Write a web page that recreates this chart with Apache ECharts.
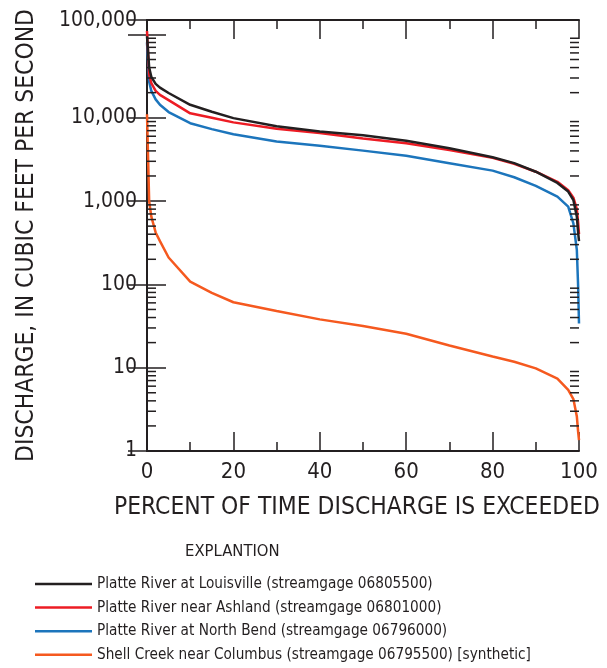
<!DOCTYPE html>
<html>
<head>
<meta charset="utf-8">
<script src="https://cdn.jsdelivr.net/npm/echarts@6/dist/echarts.min.js"></script>
<style>
  html, body { margin: 0; padding: 0; background: #fff; }
  #chart { width: 607px; height: 668px; }
</style>
</head>
<body>
<div id="chart"></div>
<script>
// percent of time discharge is exceeded
const percents = [0, 0.5, 1, 2, 3, 5, 10, 15, 20, 30, 40, 50, 60, 70, 80, 85, 90, 95, 97.5, 98.7, 99.5, 99.8, 100]

// discharge, cubic feet per second
const louisville = [95000, 40000, 31000, 25500, 23000, 19800, 14300, 11800, 9900, 7900, 6850, 6150, 5300, 4300, 3350, 2850, 2250, 1650, 1300, 1030, 650, 420, 330]
const ashland = [110000, 33000, 26000, 21000, 18800, 16300, 11300, 10000, 8800, 7400, 6550, 5650, 4950, 4100, 3300, 2800, 2250, 1700, 1350, 1100, 800, 550, 400]
const northBend = [80000, 27000, 21000, 16600, 14300, 11700, 8600, 7300, 6350, 5200, 4600, 4030, 3500, 2850, 2320, 1930, 1520, 1130, 857, 541, 259, 94, 34]
const shellCreek = [11000, 1000, 650, 420, 330, 210, 108, 79, 61, 48, 38, 31.6, 25.5, 18.5, 13.6, 11.8, 9.8, 7.4, 5.4, 4.2, 2.6, 1.7, 1.35]

const seriesNames = [
    'Platte River at Louisville (streamgage 06805500)',
    'Platte River near Ashland (streamgage 06801000)',
    'Platte River at North Bend (streamgage 06796000)',
    'Shell Creek near Columbus (streamgage 06795500) [synthetic]'
]
const seriesColors = ['#231f20', '#ed1c24', '#1c75bc', '#f5591f']
const seriesValues = [louisville, ashland, northBend, shellCreek]

const yMin = 1
const yMax = 149000
const minorMultipliers = [2, 3, 4, 5, 6, 7, 8, 9]

const font = "'DejaVu Sans Condensed', 'Liberation Sans Narrow', sans-serif"
const ink = '#231f20'

const chart = echarts.init(document.getElementById('chart'))

function isDecade(v) {
    const e = Math.log10(v)
    return Math.abs(e - Math.round(e)) < 1e-6
}

const xBase = {
    type: 'value',
    min: 0,
    max: 100,
    interval: 20,
    axisLine: {lineStyle: {color: ink, width: 2}},
    axisTick: {inside: true, length: 19, lineStyle: {color: ink, width: 1.5}},
    minorTick: {show: true, splitNumber: 2, length: 9, lineStyle: {color: ink, width: 1.5}},
    splitLine: {show: false},
    minorSplitLine: {show: false}
}

const yBase = {
    type: 'log',
    logBase: 10,
    min: yMin,
    max: yMax,
    axisLine: {lineStyle: {color: ink, width: 2}},
    axisTick: {inside: true, length: 19, lineStyle: {color: ink, width: 1.5}},
    splitLine: {show: false}
}

chart.setOption({
    animation: false,
    backgroundColor: '#fff',
    textStyle: {fontFamily: font},
    grid: {left: 147, right: 28, top: 20, bottom: 217, containLabel: false, outerBoundsMode: 'none'},
    title: {
        text: 'EXPLANTION',
        left: 185,
        top: 543,
        padding: 0,
        textStyle: {fontFamily: font, fontSize: 16.5, fontWeight: 'normal', color: ink}
    },
    legend: {
        orient: 'vertical',
        left: 35,
        top: 574,
        padding: 0,
        icon: 'rect',
        itemWidth: 57,
        itemHeight: 2.5,
        itemGap: 3.6,
        textStyle: {fontFamily: font, fontSize: 15.2, lineHeight: 20, color: ink},
        data: seriesNames
    },
    xAxis: [
        Object.assign({}, xBase, {
            position: 'bottom',
            name: 'PERCENT OF TIME DISCHARGE IS EXCEEDED',
            nameLocation: 'middle',
            nameGap: 45,
            nameTextStyle: {fontFamily: font, fontSize: 24.4, color: ink, padding: [0, 12, 0, 0]},
            axisLabel: {margin: 10, fontFamily: font, fontSize: 22, color: ink}
        }),
        Object.assign({}, xBase, {
            position: 'top',
            axisLabel: {show: false}
        })
    ],
    yAxis: [
        Object.assign({}, yBase, {
            position: 'left',
            name: 'DISCHARGE, IN CUBIC FEET PER SECOND',
            nameLocation: 'middle',
            nameGap: 108,
            nameTextStyle: {fontFamily: font, fontSize: 24.4, color: ink},
            axisLabel: {
                margin: 10,
                fontFamily: font,
                fontSize: 21,
                color: ink,
                formatter: v => {
                    if (!isDecade(v)) return ''
                    const s = Math.round(v).toLocaleString('en-US')
                    return v >= 100000 ? '{top|' + s + '}' : s
                },
                rich: {
                    top: {fontFamily: font, fontSize: 21, color: ink, padding: [0, 0, 28, 0]}
                }
            }
        }),
        Object.assign({}, yBase, {
            position: 'right',
            axisLabel: {show: false}
        })
    ],
    series: seriesNames.map((name, i) => ({
        name: name,
        type: 'line',
        xAxisIndex: 0,
        yAxisIndex: 0,
        symbol: 'none',
        smooth: false,
        z: 6 - i,
        color: seriesColors[i],
        lineStyle: {color: seriesColors[i], width: 2.5},
        data: percents.map((p, j) => [p, seriesValues[i][j]])
    }))
})

// minor log ticks (2..9 of each decade) on left and right edges
function drawMinorTicks() {
    const x0 = chart.convertToPixel({xAxisIndex: 0}, 0)
    const x1 = chart.convertToPixel({xAxisIndex: 0}, 100)
    const lines = []
    for (let d = yMin; d < yMax; d *= 10) {
        minorMultipliers.forEach(k => {
            const v = k * d
            if (v >= yMax) return
            const y = chart.convertToPixel({yAxisIndex: 0}, v)
            lines.push({x1: x0, y1: y, x2: x0 + 9, y2: y})
            lines.push({x1: x1 - 9, y1: y, x2: x1, y2: y})
        })
    }
    chart.setOption({
        graphic: lines.map(shape => ({
            type: 'line',
            shape: shape,
            silent: true,
            z: 10,
            style: {stroke: ink, lineWidth: 1.5}
        }))
    })
}

drawMinorTicks()
</script>
</body>
</html>
